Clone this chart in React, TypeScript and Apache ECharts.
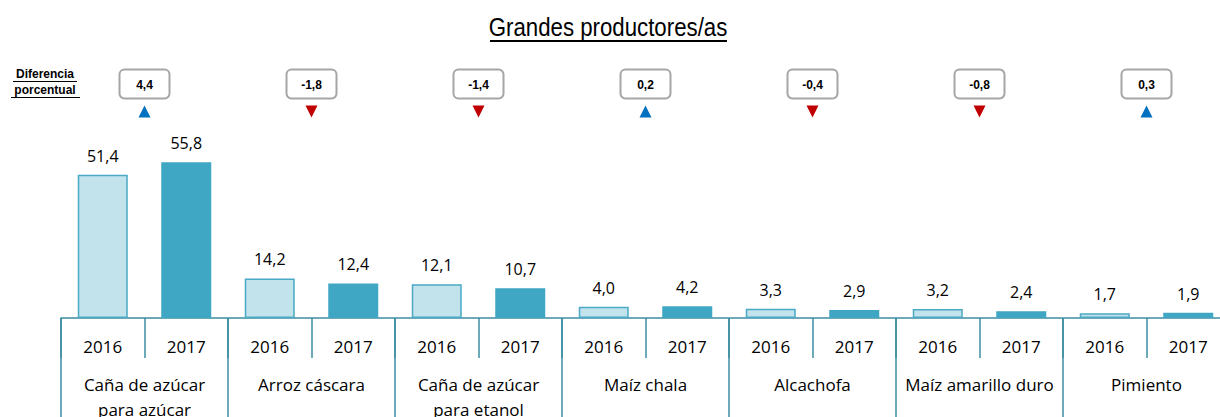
import React, { useEffect, useRef } from "react";
import * as echarts from "echarts";

const crops = [
  "Caña de azúcar\npara azúcar",
  "Arroz cáscara",
  "Caña de azúcar\npara etanol",
  "Maíz chala",
  "Alcachofa",
  "Maíz amarillo duro",
  "Pimiento",
];
const years = ["2016", "2017"];
const values2016 = [51.4, 14.2, 12.1, 4.0, 3.3, 3.2, 1.7];
const values2017 = [55.8, 12.4, 10.7, 4.2, 2.9, 2.4, 1.9];
const diffs = [4.4, -1.8, -1.4, 0.2, -0.4, -0.8, 0.3];

const BOX_LEVEL = 0.905;
const ARROW_LEVEL = 0.8;

const fmt = (v: number) => v.toFixed(1).replace(".", ",");

export default function App() {
  const ref = useRef<HTMLDivElement>(null);
  useEffect(() => {
    document.body.style.margin = "0";
    const chart = echarts.init(ref.current!, null, { renderer: "svg" });

    const yearCats: string[] = [];
    const barData: any[] = [];
    crops.forEach((c, i) => {
      [values2016[i], values2017[i]].forEach((v, j) => {
        yearCats.push(c + "|" + years[j]);
        barData.push({
          value: v,
          itemStyle:
            j === 0
              ? { color: "#c2e3ec", borderColor: "#4aa9c4", borderWidth: 1.5 }
              : { color: "#3fa6c3", borderColor: "#3fa6c3", borderWidth: 0 },
        });
      });
    });
    const diffData = diffs.map((d, i) => [i, BOX_LEVEL, d]);

    const axisColor = "#3c8da0";
    const font = "'Open Sans', sans-serif";

    chart.setOption({
      animation: false,
      graphic: [
        {
          type: "text",
          x: 608,
          y: 28,
          scaleX: 0.89,
          style: {
            text: "Grandes productores/as",
            font: "25px 'Liberation Sans', Arial",
            fill: "#000",
            align: "center",
            verticalAlign: "middle",
          },
        },
        {
          type: "line",
          shape: { x1: 490, y1: 41, x2: 727, y2: 41 },
          style: { stroke: "#000", lineWidth: 2 },
        },
        {
          type: "text",
          x: 45,
          y: 74,
          style: {
            text: "Diferencia",
            font: "bold 12px 'Liberation Sans', Arial",
            fill: "#000",
            align: "center",
            verticalAlign: "middle",
          },
        },
        {
          type: "text",
          x: 45,
          y: 90,
          style: {
            text: "porcentual",
            font: "bold 12px 'Liberation Sans', Arial",
            fill: "#000",
            align: "center",
            verticalAlign: "middle",
          },
        },
        {
          type: "line",
          shape: { x1: 13, y1: 81.5, x2: 77, y2: 81.5 },
          style: { stroke: "#000", lineWidth: 1 },
        },
        {
          type: "line",
          shape: { x1: 11, y1: 97.5, x2: 80, y2: 97.5 },
          style: { stroke: "#000", lineWidth: 1 },
        },
      ],
      grid: { left: 61, top: 60, width: 1169, height: 258, outerBoundsMode: "none", containLabel: false },
      xAxis: [
        {
          type: "category",
          data: yearCats,
          position: "bottom",
          axisLine: { show: true, lineStyle: { color: axisColor, width: 1.5 } },
          axisTick: { show: true, interval: 0, length: 40, lineStyle: { color: axisColor, width: 1.5 } },
          axisLabel: {
            interval: 0,
            margin: 18,
            fontFamily: font,
            fontSize: 17,
            color: "#000",
            lineHeight: 21,
            formatter: (v: string) => v.split("|")[1],
          },
        },
        {
          type: "category",
          data: crops,
          position: "bottom",
          axisLine: { show: false },
          axisTick: { show: true, interval: 0, length: 120, lineStyle: { color: axisColor, width: 1.5 } },
          axisLabel: {
            interval: 0,
            margin: 54,
            fontFamily: font,
            fontSize: 17,
            color: "#000",
            lineHeight: 25,
          },
        },
      ],
      yAxis: [
        { type: "value", min: 0, max: 92.5, show: false },
        { type: "value", min: 0, max: 1, show: false },
      ],
      series: [
        {
          type: "bar",
          xAxisIndex: 0,
          yAxisIndex: 0,
          data: barData,
          barWidth: 50,
          label: {
            show: true,
            position: "top",
            distance: 11,
            fontFamily: font,
            fontSize: 16,
            color: "#000",
            formatter: (p: any) => fmt(p.value),
          },
        },
        {
          type: "custom",
          xAxisIndex: 1,
          yAxisIndex: 1,
          data: diffData,
          encode: { x: 0, y: 1 },
          renderItem: (params: any, api: any) => {
            const pt = api.coord([api.value(0), api.value(1)]);
            const pa = api.coord([api.value(0), ARROW_LEVEL]);
            const x = pt[0];
            const y = pt[1];
            const ya = pa[1];
            const d = api.value(2);
            const up = d >= 0;
            return {
              type: "group",
              children: [
                {
                  type: "rect",
                  shape: { x: x - 25, y: y - 15, width: 50, height: 29, r: 5 },
                  style: { fill: "#fff", stroke: "#a6a6a6", lineWidth: 2 },
                },
                {
                  type: "text",
                  style: {
                    x: x,
                    y: y,
                    text: fmt(d),
                    align: "center",
                    verticalAlign: "middle",
                    font: "bold 12px 'Liberation Sans', Arial",
                    fill: "#000",
                  },
                },
                {
                  type: "polygon",
                  shape: {
                    points: up
                      ? [[x - 6, ya + 6], [x + 6, ya + 6], [x, ya - 6]]
                      : [[x - 6, ya - 6], [x + 6, ya - 6], [x, ya + 6]],
                  },
                  style: { fill: up ? "#0070c0" : "#c00000" },
                },
              ],
            };
          },
        },
      ],
    });
    return () => chart.dispose();
  }, []);
  return <div ref={ref} style={{ width: 1220, height: 417 }} />;
}
